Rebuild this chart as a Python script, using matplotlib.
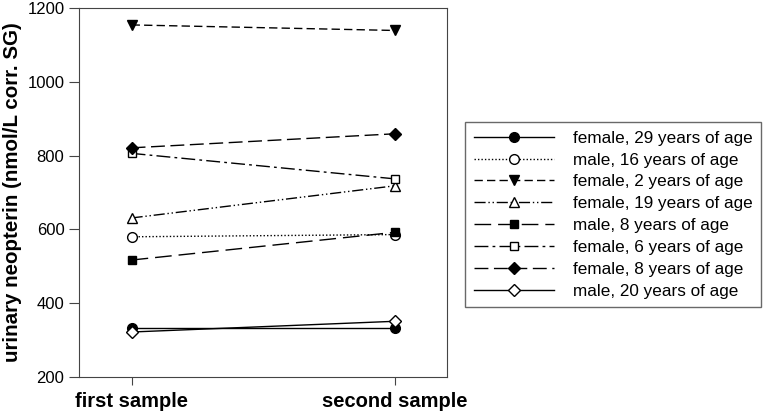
import matplotlib.pyplot as plt

# data
samples = [1, 2]
sample_labels = ["first sample", "second sample"]

f29 = [334, 334]
m16 = [580, 586]
f2 = [1154, 1139]
f19 = [631, 718]
m8 = [517, 592]
f6 = [806, 737]
f8 = [821, 859]
m20 = [322, 351]

series_labels = [
    "female, 29 years of age",
    "male, 16 years of age",
    "female, 2 years of age",
    "female, 19 years of age",
    "male, 8 years of age",
    "female, 6 years of age",
    "female, 8 years of age",
    "male, 20 years of age",
]

plt.rcParams["font.family"] = ["Liberation Sans", "DejaVu Sans"]

fig = plt.figure(figsize=(7.67, 4.18), dpi=100)
ax = fig.add_axes([0.103, 0.098, 0.480, 0.883])

lw = 1.0
ms = 7
ax.plot(samples, f29, color="black", lw=lw, ls="-", marker="o", ms=ms,
        mfc="black", mec="black", label=series_labels[0])
ax.plot(samples, m16, color="black", lw=lw, ls=(0, (1, 1.5)), marker="o", ms=ms,
        mfc="white", mec="black", label=series_labels[1])
ax.plot(samples, f2, color="black", lw=lw, ls=(0, (6, 3)), marker="v", ms=ms,
        mfc="black", mec="black", label=series_labels[2])
ax.plot(samples, f19, color="black", lw=lw, ls=(0, (8, 2, 1, 2, 1, 2)), marker="^", ms=ms,
        mfc="white", mec="black", label=series_labels[3])
ax.plot(samples, m8, color="black", lw=lw, ls=(0, (12, 5)), marker="s", ms=6,
        mfc="black", mec="black", label=series_labels[4])
ax.plot(samples, f6, color="black", lw=lw, ls=(0, (10, 3, 2, 3)), marker="s", ms=6,
        mfc="white", mec="black", label=series_labels[5])
ax.plot(samples, f8, color="black", lw=lw, ls=(0, (10, 4)), marker="D", ms=6,
        mfc="black", mec="black", label=series_labels[6])
ax.plot(samples, m20, color="black", lw=lw, ls="-", marker="D", ms=6,
        mfc="white", mec="black", label=series_labels[7])

ax.set_xlim(0.8, 2.2)
ax.set_ylim(200, 1200)
ax.set_yticks([200, 400, 600, 800, 1000, 1200])
ax.set_xticks(samples)
ax.set_xticklabels(sample_labels, fontsize=14.5, fontweight="bold")
ax.tick_params(axis="y", labelsize=12, direction="out", length=7, color="#444444")
ax.tick_params(axis="x", direction="out", length=6, pad=5, color="#444444")
ax.set_ylabel("urinary neopterin (nmol/L corr. SG)", fontsize=14.8, fontweight="bold",
              labelpad=4)
for s in ax.spines.values():
    s.set_color("#444444")

leg = ax.legend(loc="center left", bbox_to_anchor=(1.049, 0.44), borderaxespad=0,
                fontsize=12.3, frameon=True, fancybox=False, edgecolor="#444444",
                handlelength=4.7, borderpad=0.5, labelspacing=0.4, handletextpad=1.1)
leg.get_frame().set_linewidth(1.0)

fig.savefig("out.png", dpi=100)
